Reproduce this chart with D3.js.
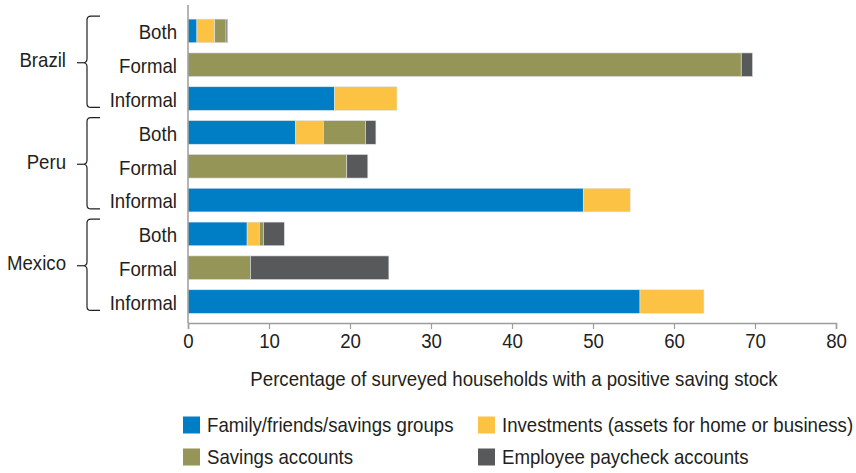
<!DOCTYPE html>
<html>
<head>
<meta charset="utf-8">
<script src="https://cdn.jsdelivr.net/npm/d3@7"></script>
<style>
  body { margin: 0; background: #fff; }
  svg text { font-family: "Liberation Sans", Arial, sans-serif; fill: #231f20; }
</style>
</head>
<body>
<svg width="856" height="473"></svg>
<script>
// data (percent of households)
var countries = ["Brazil", "Peru", "Mexico"];
var types = ["Both", "Formal", "Informal"];
var seriesNames = ["Family/friends/savings groups", "Investments (assets for home or business)",
                   "Savings accounts", "Employee paycheck accounts"];
var seriesColors = ["#007ec5", "#fbc244", "#959558", "#58595b"];
// rows in order: Brazil Both, Formal, Informal, Peru ..., Mexico ...
var family      = [1.1, 0,    18.1, 13.3, 0,    48.8, 7.3,  0,    55.8];
var investments = [2.2, 0,    7.7,  3.4,  0,    5.8,  1.5,  0,    7.9];
var savingsAcc  = [1.4, 68.3, 0,    5.2,  19.6, 0,    0.5,  7.7,  0];
var paycheck    = [0.2, 1.4,  0,    1.3,  2.6,  0,    2.6,  17.1, 0];
var xTicks = [0, 10, 20, 30, 40, 50, 60, 70, 80];

var svg = d3.select("svg");
var x0 = 188, x1 = 836, yTop = 5, yAxis = 323;
var fs = 20.5, sx = 0.91;   // font is a narrow sans, fake it with a squeeze

// put a squeezed text at (px, py)
function label(g, px, py, txt, anchor) {
    return g.append("text")
        .attr("transform", "translate(" + px + "," + py + ") scale(" + sx + ",1)")
        .attr("text-anchor", anchor || "start")
        .attr("font-size", fs)
        .text(txt);
}

var rows = [];
countries.forEach(function (c, ci) {
    types.forEach(function (t, ti) {
        var i = ci * 3 + ti;
        rows.push({ key: c + "-" + t, country: c, type: t,
            family: family[i], investments: investments[i], savingsAcc: savingsAcc[i], paycheck: paycheck[i] });
    });
});
var keys = ["family", "investments", "savingsAcc", "paycheck"];

var x = d3.scaleLinear().domain([0, 80]).range([x0, x1]);
var y = d3.scaleBand().domain(rows.map(function (d) { return d.key; }))
    .range([14, 318.5]).paddingInner(0.3).paddingOuter(0.15);

var stack = d3.stack().keys(keys)(rows);

var gBars = svg.append("g");
gBars.selectAll("g.series")
    .data(stack)
    .enter().append("g")
    .attr("class", "series")
    .attr("fill", function (d, i) { return seriesColors[i]; })
    .selectAll("rect")
    .data(function (d) { return d.filter(function (s) { return s[1] - s[0] > 0; }); })
    .enter().append("rect")
    .attr("x", function (d) { return x(d[0]); })
    .attr("y", function (d) { return y(d.data.key); })
    .attr("width", function (d) { return x(d[1]) - x(d[0]); })
    .attr("height", y.bandwidth())
    .attr("stroke", "#dfe6ea")
    .attr("stroke-width", 0.6);

// x axis
var xAxis = svg.append("g")
    .attr("transform", "translate(0," + yAxis + ")")
    .call(d3.axisBottom(x).tickValues(xTicks).tickSize(6).tickPadding(4));
xAxis.select(".domain").attr("stroke", "#9d9d9d").attr("stroke-width", 1.5);
xAxis.selectAll(".tick line").attr("stroke", "#9d9d9d").attr("stroke-width", 1.2);
xAxis.selectAll(".tick text").attr("font-size", fs).attr("fill", "#231f20")
    .attr("transform", "scale(" + sx + ",1)")
    .style("font-family", "Liberation Sans, Arial, sans-serif");

// y axis line
svg.append("line")
    .attr("x1", x0).attr("x2", x0).attr("y1", yTop).attr("y2", yAxis)
    .attr("stroke", "#9d9d9d").attr("stroke-width", 1.5);

// row labels
var rowG = svg.append("g");
rows.forEach(function (d) {
    label(rowG, 177, y(d.key) + y.bandwidth() / 2 + 1, d.type, "end").attr("dy", "0.36em");
});

// country braces + labels
var braceG = svg.append("g");
countries.forEach(function (c) {
    var top = y(c + "-Both") - 3;
    var bot = y(c + "-Informal") + y.bandwidth() - 3;
    var mid = y(c + "-Formal") + y.bandwidth() / 2 - 2;
    var bx = 87, r = 4;
    var p = d3.path();
    p.moveTo(bx + 13, top);
    p.lineTo(bx + r, top);
    p.quadraticCurveTo(bx, top, bx, top + r);
    p.lineTo(bx, mid - r);
    p.quadraticCurveTo(bx, mid, bx - r, mid);
    p.quadraticCurveTo(bx, mid, bx, mid + r);
    p.lineTo(bx, bot - r);
    p.quadraticCurveTo(bx, bot, bx + r, bot);
    p.lineTo(bx + 13, bot);
    braceG.append("path").attr("d", p.toString())
        .attr("fill", "none").attr("stroke", "#231f20").attr("stroke-width", 1.2);
    braceG.append("line")
        .attr("x1", 77).attr("x2", bx - r).attr("y1", mid).attr("y2", mid)
        .attr("stroke", "#231f20").attr("stroke-width", 1.2);
    label(braceG, 66, mid - 3, c, "end").attr("dy", "0.36em");
});

// axis title
label(svg, (x0 + x1) / 2 + 2, 386, "Percentage of surveyed households with a positive saving stock", "middle");

// legend
var legendPos = [[183, 425], [478, 425], [183, 457], [478, 457]];
var legend = svg.append("g").selectAll("g")
    .data(seriesNames)
    .enter().append("g")
    .attr("transform", function (d, i) { return "translate(" + legendPos[i][0] + "," + legendPos[i][1] + ")"; });
legend.append("rect")
    .attr("x", 0).attr("y", -8.5).attr("width", 17).attr("height", 17)
    .attr("fill", function (d, i) { return seriesColors[i]; });
legend.each(function (d) {
    label(d3.select(this), 24, 0, d).attr("dy", "0.36em");
});
</script>
</body>
</html>
